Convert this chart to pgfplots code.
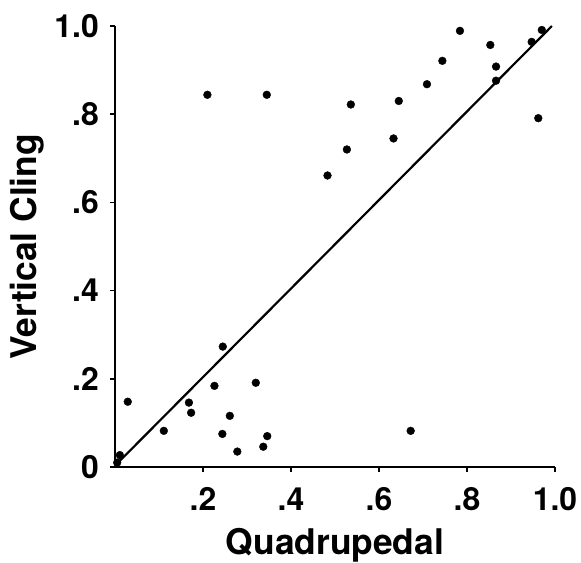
\documentclass[border=0pt]{standalone}
\usepackage{pgfplots}
\pgfplotsset{compat=1.18}
\usepackage{fontspec}
\setmainfont{TeX Gyre Heros}
\begin{document}
\begin{tikzpicture}
\begin{axis}[
  name=ax,
  scale only axis,
  width=440bp, height=441bp,
  xmin=0, xmax=1, ymin=0, ymax=1,
  clip=false,
  axis x line*=bottom, axis y line*=left,
  axis line style={line width=2.6bp, -},
  tick align=outside,
  major tick length=5bp,
  tick style={line width=1.6bp, black},
  xtick={0.2,0.4,0.6,0.8,1.0},
  xticklabels={.2,.4,.6,.8,1.0},
  ytick={0,0.2,0.4,0.6,0.8,1.0},
  yticklabels={0,.2,.4,.6,.8,1.0},
  ticklabel style={font=\fontsize{32}{38}\selectfont\bfseries, inner sep=0pt},
  xticklabel style={anchor=base, yshift=-38bp},
  yticklabel style={anchor=east, xshift=-11bp},
  label style={font=\fontsize{35.5}{42}\selectfont\bfseries, inner sep=0pt},
  xlabel={Quadrupedal},
  ylabel={Vertical Cling},
  xlabel style={at={(axis description cs:0.5,-0.1995)}, anchor=base},
  ylabel style={at={(axis description cs:-0.1773,0.5)}, anchor=base, rotate=0},
]
\addplot[black, line width=2.2bp] coordinates {(0.005,0.008) (0.993,1.0)};
\addplot[only marks, mark=*, mark size=3.9bp, black] coordinates {
(0.005,0.01)
(0.011,0.027)
(0.029,0.148)
(0.111,0.082)
(0.168,0.146)
(0.173,0.123)
(0.21,0.844)
(0.226,0.184)
(0.244,0.075)
(0.245,0.273)
(0.261,0.116)
(0.278,0.035)
(0.320,0.191)
(0.337,0.046)
(0.345,0.844)
(0.346,0.070)
(0.483,0.661)
(0.527,0.720)
(0.536,0.822)
(0.633,0.745)
(0.645,0.830)
(0.672,0.082)
(0.709,0.868)
(0.744,0.921)
(0.784,0.989)
(0.853,0.957)
(0.866,0.908)
(0.866,0.876)
(0.947,0.964)
(0.962,0.791)
(0.970,0.991)
};
\end{axis}
\pgfresetboundingbox
\path[use as bounding box] ([shift={(-115bp,-96bp)}]ax.south west) rectangle ([shift={(26bp,26bp)}]ax.north east);
\end{tikzpicture}
\end{document}
